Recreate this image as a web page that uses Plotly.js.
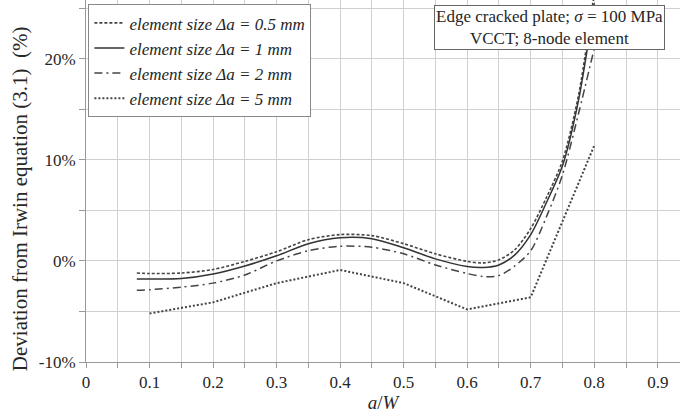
<!DOCTYPE html>
<html><head><meta charset="utf-8">
<script src="https://cdn.plot.ly/plotly-3.0.1.min.js"></script>
<style>body{margin:0;padding:0;background:#fff}#chart{width:680px;height:420px}</style>
</head><body><div id="chart"></div>
<script>
// a/W positions and deviation (%) for each element size
const xSmooth = [0.08, 0.1, 0.15, 0.2, 0.25, 0.3, 0.35, 0.4, 0.45, 0.5, 0.55, 0.6, 0.625, 0.65, 0.675, 0.7, 0.725, 0.75, 0.775, 0.8];
const dev05 = [-1.2, -1.25, -1.2, -0.85, -0.05, 0.9, 2.1, 2.6, 2.5, 1.7, 0.7, -0.05, -0.2, 0.1, 1.1, 3.2, 6.3, 9.9, 16.3, 26.5];
const dev1  = [-1.8, -1.8, -1.75, -1.3, -0.5, 0.5, 1.7, 2.3, 2.2, 1.3, 0.2, -0.55, -0.65, -0.4, 0.6, 2.6, 5.8, 9.4, 15.8, 25.5];
const dev2  = [-2.9, -2.85, -2.6, -2.2, -1.4, 0.0, 1.0, 1.45, 1.35, 0.7, -0.4, -1.25, -1.55, -1.45, -0.5, 1.0, 4.4, 8.5, 14.5, 21.0];
const x5 = [0.1, 0.2, 0.3, 0.4, 0.5, 0.6, 0.7, 0.8];
const dev5 = [-5.2, -4.1, -2.2, -0.9, -2.2, -4.8, -3.6, 11.4];
const names = ['element size \u0394a = 0.5 mm', 'element size \u0394a = 1 mm', 'element size \u0394a = 2 mm', 'element size \u0394a = 5 mm'];
const yTickVals = [-10, 0, 10, 20];
const yTickText = ['-10%', '0%', '10%', '20%'];

const serif = 'Liberation Serif, Times New Roman, serif';
const ink = '#262626';
const traces = [
  {x: xSmooth, y: dev05, name: names[0], mode: 'lines',
   line: {color: '#444', width: 1.6, dash: '3px,2px', shape: 'spline', smoothing: 0.8}},
  {x: xSmooth, y: dev1, name: names[1], mode: 'lines',
   line: {color: '#333', width: 1.5, shape: 'spline', smoothing: 0.8}},
  {x: xSmooth, y: dev2, name: names[2], mode: 'lines',
   line: {color: '#444', width: 1.5, dash: '8px,4px,2px,4px', shape: 'spline', smoothing: 0.8}},
  {x: x5, y: dev5, name: names[3], mode: 'lines',
   line: {color: '#444', width: 2, dash: '2px,2px'}}
];

const layout = {
  width: 680, height: 420,
  margin: {l: 86, r: 0, t: 0, b: 58},
  paper_bgcolor: '#fff', plot_bgcolor: '#fff',
  font: {family: serif, size: 17, color: ink},
  showlegend: true,
  legend: {x: 0.004, y: 0.988, xanchor: 'left', yanchor: 'top',
    bgcolor: '#fff', bordercolor: '#888', borderwidth: 1,
    font: {family: serif, size: 17, color: ink, style: 'italic'},
    itemwidth: 30},
  xaxis: {range: [0, 0.935], dtick: 0.1, tick0: 0, showgrid: true, gridcolor: '#d0d0d0', gridwidth: 1,
    minor: {dtick: 0.05, showgrid: true, gridcolor: '#d0d0d0', ticks: 'outside', ticklen: 5, tickcolor: '#999'},
    ticks: 'outside', ticklen: 5, tickcolor: '#999', showline: true, linecolor: '#999', linewidth: 1,
    zeroline: false, tickfont: {family: serif, size: 17, color: ink},
    title: {text: '<i>a</i>/<i>W</i>', font: {family: serif, size: 19, color: ink}, standoff: 4}},
  yaxis: {range: [-10, 25.8], tickmode: 'array', tickvals: yTickVals, ticktext: yTickText,
    showgrid: true, gridcolor: '#d0d0d0', gridwidth: 1,
    minor: {dtick: 5, tick0: 0, showgrid: true, gridcolor: '#d0d0d0', ticks: 'outside', ticklen: 6, tickcolor: '#999'},
    ticks: 'outside', ticklen: 6, tickcolor: '#999', showline: true, linecolor: '#999', linewidth: 1,
    zeroline: false, tickfont: {family: serif, size: 17, color: ink}},
  annotations: [{
    xref: 'paper', yref: 'paper', x: 0.781, y: 0.925, xanchor: 'center', yanchor: 'middle',
    text: 'Edge cracked plate; <i>\u03c3</i> = 100 MPa<br>VCCT; 8-node element',
    showarrow: false, align: 'center', bgcolor: '#fff', bordercolor: '#666', borderwidth: 1, borderpad: 1,
    font: {family: serif, size: 17, color: ink}
  }, {
    xref: 'paper', yref: 'paper', x: -0.111, y: 0.45, xanchor: 'center', yanchor: 'middle',
    text: 'Deviation from Irwin equation (3.1)  (%)', textangle: -90, showarrow: false,
    font: {family: serif, size: 21, color: ink}
  }]
};
Plotly.newPlot('chart', traces, layout, {displayModeBar: false, staticPlot: true});
</script></body></html>
